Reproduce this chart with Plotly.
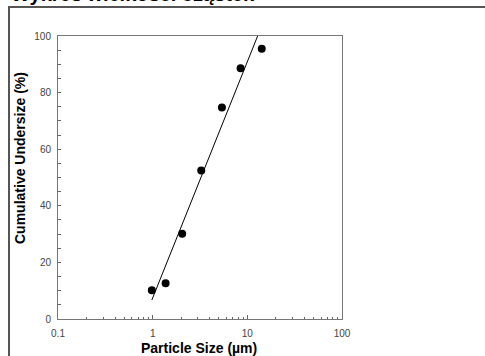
import plotly.graph_objects as go

# Data
particle_size = [0.98, 1.37, 2.05, 3.26, 5.39, 8.49, 14.2]
cumulative_undersize = [10.2, 12.6, 30.1, 52.5, 74.7, 88.6, 95.5]
fit_size = [0.98, 12.85]
fit_undersize = [6.7, 100.0]
x_tick_vals = [0.1, 1, 10, 100]
x_tick_text = ["0.1", "1", "10", "100"]
y_tick_vals = [0, 20, 40, 60, 80, 100]

title_text = "Wykres wielkości cząstek"
x_title = "Particle Size (µm)"
y_title = "Cumulative Undersize (%)"

W, H = 485, 356
L, R, T, B = 58, 143, 36, 37
pw, ph = W - L - R, H - T - B

def px_x(px):
    return (px - L) / pw

def px_y(py):
    return (H - B - py) / ph

font = "Liberation Sans, Arial, sans-serif"

fig = go.Figure()
fig.add_trace(go.Scatter(x=fit_size, y=fit_undersize, mode="lines",
                         line=dict(color="black", width=1), showlegend=False))
fig.add_trace(go.Scatter(x=particle_size, y=cumulative_undersize, mode="markers",
                         marker=dict(color="black", size=8), showlegend=False))

fig.update_layout(
    width=W, height=H,
    margin=dict(l=L, r=R, t=T, b=B, pad=0),
    paper_bgcolor="white", plot_bgcolor="white",
    font=dict(family=font, size=10, color="#444"),
    xaxis=dict(type="log", range=[-1, 2], tickvals=x_tick_vals, ticktext=x_tick_text,
               showgrid=False, zeroline=False, showline=True, linecolor="#777",
               linewidth=1, mirror=True, ticks="inside", ticklen=4, tickcolor="#666",
               minor=dict(ticks="inside", ticklen=2, tickcolor="#666", dtick="D1", showgrid=False),
               tickfont=dict(size=10, color="#444"), ticklabelstandoff=5),
    yaxis=dict(range=[0, 100], tickvals=y_tick_vals,
               showgrid=False, zeroline=False, showline=True, linecolor="#777",
               linewidth=1, mirror=True, ticks="inside", ticklen=3, tickcolor="#666",
               minor=dict(ticks="inside", ticklen=3, tickcolor="#666", dtick=5, showgrid=False),
               tickfont=dict(size=10, color="#444"), ticklabelstandoff=4),
)

# outer frame
fig.add_shape(type="rect", xref="paper", yref="paper",
              x0=px_x(9), x1=px_x(W + 20), y0=px_y(H + 20), y1=px_y(7),
              line=dict(color="#555", width=2), fillcolor="rgba(0,0,0,0)", layer="below")

fig.add_annotation(text="<b>" + title_text + "</b>", xref="paper", yref="paper",
                   x=px_x(9), y=px_y(-6.5), xanchor="left", yanchor="middle",
                   showarrow=False, font=dict(family=font, size=20, color="black"))
fig.add_annotation(text="<b>" + x_title + "</b>", xref="paper", yref="paper",
                   x=px_x(199), y=px_y(348), xanchor="center", yanchor="middle",
                   showarrow=False, font=dict(family=font, size=14, color="black"))
fig.add_annotation(text="<b>" + y_title + "</b>", xref="paper", yref="paper",
                   x=px_x(20), y=px_y(158), xanchor="center", yanchor="middle",
                   textangle=-90, showarrow=False, font=dict(family=font, size=14, color="black"))

fig.write_html("out.html", config={"displayModeBar": False},
               post_script="document.body.style.margin='0';document.body.style.overflow='hidden';")
